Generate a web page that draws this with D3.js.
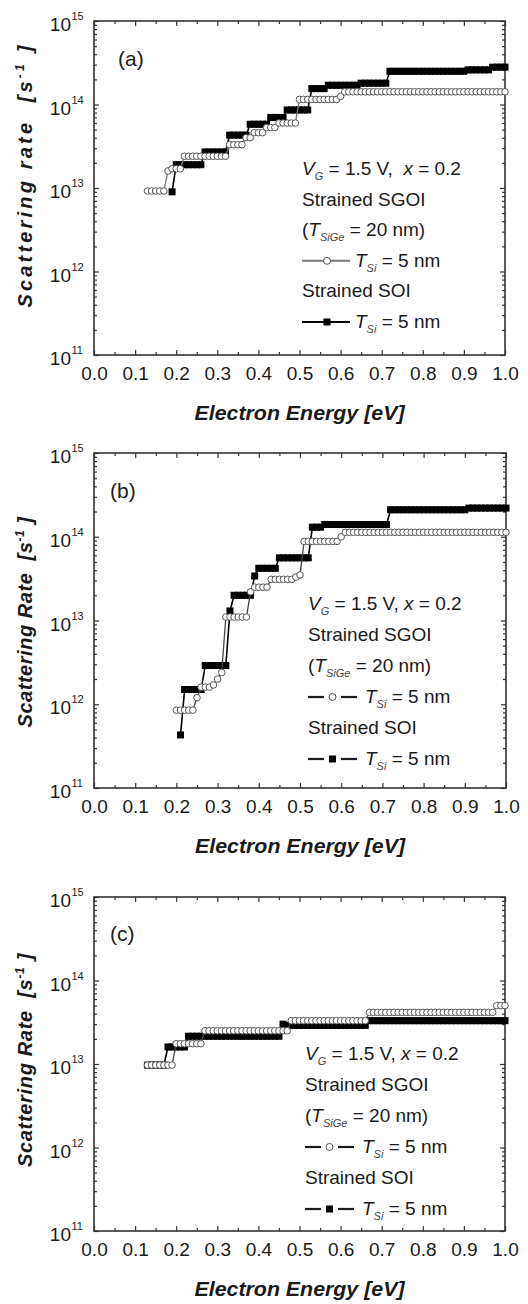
<!DOCTYPE html>
<html><head><meta charset="utf-8">
<script src="https://cdn.jsdelivr.net/npm/d3@7"></script>
<style>
body{margin:0;background:#fff}
svg{display:block}
text{font-family:"Liberation Sans",Arial,sans-serif;fill:#1a1a1a;white-space:pre}
</style>
</head><body>
<svg id="chart" width="528" height="1304"></svg>
<script>
// ---------------- data (values in units of 1e13 s^-1, sampled every 0.01 eV) ----------------
const xTickLabels = ["0.0","0.1","0.2","0.3","0.4","0.5","0.6","0.7","0.8","0.9","1.0"];
const yTickExponents = [11,12,13,14,15];
const energyStep = 0.01;

// panel (a)
const aSgoiStart = 0.13;
const aSgoi = [0.92,0.92,0.92,0.92,0.92, 1.6, 1.7,1.7,1.7,
  2.4,2.4,2.4,2.4,2.4,2.4,2.4,2.4,2.4,2.4,2.4,
  3.3,3.3,3.3,3.3, 4.0,4.0, 4.6,4.6,4.6, 5.3,5.3,5.3, 6.0,6.0,6.0,6.0,6.0,
  11.5,11.5,11.5,11.5,11.5,11.5,11.5,11.5,11.5,11.5, 12.5,
  14.2,14.2,14.2,14.2,14.2,14.2,14.2,14.2,14.2,14.2,14.2,14.2,14.2,14.2,14.2,14.2,14.2,14.2,14.2,14.2,
  14.2,14.2,14.2,14.2,14.2,14.2,14.2,14.2,14.2,14.2,14.2,14.2,14.2,14.2,14.2,14.2,14.2,14.2,14.2,14.2];
const aSoiStart = 0.19;
const aSoi = [0.9, 1.9,1.9,1.9,1.9,1.9,1.9,1.9, 2.7,2.7,2.7,2.7,2.7,2.7,
  4.3,4.3,4.3,4.3,4.3, 5.8,5.8,5.8,5.8,5.8, 7.0,7.0,7.0,7.0, 8.6,8.6,8.6,8.6,8.6,8.6,
  15.5,15.5,15.5,15.5, 17,17,17,17,17,17,17,17, 18,18,18,18,18,18,18,
  25,25,25,25,25,25,25,25,25,25,25,25,25,25,25,25,25,25,25, 26,26,26,26,26,26, 28,28,28,28];

// panel (b)
const bSgoiStart = 0.20;
const bSgoi = [0.085,0.085,0.085,0.085,0.085, 0.12, 0.16,0.16,0.16, 0.17, 0.20, 0.24,
  1.1,1.1,1.1,1.1,1.1,1.1, 2.2, 2.5,2.5,2.5,2.5, 3.1,3.1,3.1,3.1,3.1,3.1, 3.3, 3.5,
  8.8,8.8,8.8,8.8,8.8,8.8,8.8,8.8,8.8, 10,
  11.3,11.3,11.3,11.3,11.3,11.3,11.3,11.3,11.3,11.3,11.3,11.3,11.3,11.3,11.3,11.3,11.3,11.3,11.3,11.3,
  11.3,11.3,11.3,11.3,11.3,11.3,11.3,11.3,11.3,11.3,11.3,11.3,11.3,11.3,11.3,11.3,11.3,11.3,11.3,11.3];
const bSoiStart = 0.21;
const bSoi = [0.043, 0.15,0.15,0.15,0.15,0.15, 0.29,0.29,0.29,0.29,0.29,0.29, 1.3,
  2.0,2.0,2.0,2.0,2.0, 3.4, 4.2,4.2,4.2,4.2,4.2, 5.6,5.6,5.6,5.6,5.6,5.6,5.6,5.6,
  13,13,13, 14,14,14,14,14,14,14,14,14,14,14,14,14,14,14,14,
  21,21,21,21,21,21,21,21,21,21,21,21,21,21,21,21,21,21,21, 22,22,22,22,22,22,22,22,22,22];

// panel (c)
const cSgoiStart = 0.13;
const cSgoi = [0.97,0.97,0.97,0.97,0.97,0.97,0.97, 1.75,1.75,1.75,1.75,1.75,1.75,1.75,
  2.5,2.5,2.5,2.5,2.5,2.5,2.5,2.5,2.5,2.5,2.5,2.5,2.5,2.5,2.5,2.5,2.5,2.5,2.5,2.5,2.5,
  3.3,3.3,3.3,3.3,3.3,3.3,3.3,3.3,3.3,3.3,3.3,3.3,3.3,3.3,3.3,3.3,3.3,3.3,3.3,
  4.15,4.15,4.15,4.15,4.15,4.15,4.15,4.15,4.15,4.15,4.15,4.15,4.15,4.15,4.15,4.15,
  4.15,4.15,4.15,4.15,4.15,4.15,4.15,4.15,4.15,4.15,4.15,4.15,4.15,4.15,4.15, 5.0,5.0,5.0];
const cSoiStart = 0.13;
const cSoi = [0.97,0.97,0.97,0.97,0.97, 1.6,1.6,1.6,1.6,1.6,
  2.15,2.15,2.15,2.15,2.15,2.15,2.15,2.15,2.15,2.15,2.15,2.15,2.15,2.15,2.15,2.15,2.15,2.15,2.15,2.15,2.15,2.15,2.15,
  3.0,2.9,2.9,2.9,2.9,2.9,2.9,2.9,2.9,2.9,2.9,2.9,2.9,2.9,2.9,2.9,2.9,2.9,2.9,2.9,2.9,
  3.3,3.3,3.3,3.3,3.3,3.3,3.3,3.3,3.3,3.3,3.3,3.3,3.3,3.3,3.3,3.3,3.3,
  3.3,3.3,3.3,3.3,3.3,3.3,3.3,3.3,3.3,3.3,3.3,3.3,3.3,3.3,3.3,3.3,3.3];

const panelLabels = ["(a)","(b)","(c)"];
const yTitleWords = ["Scattering rate","Scattering Rate","Scattering Rate"];
const xTitle = "Electron Energy [eV]";
const legendHeader = ["1.5 V","x = 0.2"];
const legendSgoi = ["Strained SGOI","20 nm","5 nm"];
const legendSoi = ["Strained SOI","5 nm"];

// ---------------- layout ----------------
const panels = [
  {top:21, bottom:355, left:94, right:505, lab:[118,66], title:[32,175,265], leg:[302,175,30.6], style:"solid", sep:",  ",
   sgoi:aSgoi, sgoi0:aSgoiStart, soi:aSoi, soi0:aSoiStart, sgoiLine:"#777"},
  {top:453, bottom:788, left:94, right:506, lab:[110,498], title:[32,622,211], leg:[308,610,31], style:"dash", sep:", ",
   sgoi:bSgoi, sgoi0:bSgoiStart, soi:bSoi, soi0:bSoiStart, sgoiLine:"#444"},
  {top:897, bottom:1231, left:94, right:505, lab:[110,941], title:[32,1060,214], leg:[305,1060,31], style:"dash", sep:", ",
   sgoi:cSgoi, sgoi0:cSgoiStart, soi:cSoi, soi0:cSoiStart, sgoiLine:"#444"}
];

const svg = d3.select("#chart");
const INK = "#1a1a1a";

function rich(g, x, y, parts, size) {
  const t = g.append("text").attr("x", x).attr("y", y).style("font-size", size + "px");
  let shift = 0;
  parts.forEach(p => {
    const s = t.append("tspan").text(p.t);
    if (p.i) s.style("font-style", "italic");
    if (p.sub) {
      s.style("font-size", "11px").style("font-style", "italic").attr("fill", "#444");
      s.attr("dy", 5 - shift); shift = 5;
    } else if (shift !== 0) {
      s.attr("dy", -shift); shift = 0;
    }
  });
  return t;
}

function series(values, start) {
  return values.map((v, i) => ({e: +(start + i * energyStep).toFixed(2), v: v * 1e13}));
}

panels.forEach((p, k) => {
  const g = svg.append("g");
  const x = d3.scaleLinear().domain([0, 1]).range([p.left, p.right]);
  const y = d3.scaleLog().domain([1e11, 1e15]).range([p.bottom, p.top]);

  const xMaj = xTickLabels.map(Number);
  const xMin = xMaj.slice(0, -1).map(v => v + 0.05);
  const yMaj = yTickExponents.map(e => Math.pow(10, e));
  const yMin = [];
  yTickExponents.slice(0, -1).forEach(e => { for (let m = 2; m <= 9; m++) yMin.push(m * Math.pow(10, e)); });

  const style = sel => {
    sel.select(".domain").remove();
    sel.selectAll(".tick line").attr("stroke", "#333").attr("stroke-width", 1.2);
  };
  g.append("g").attr("transform", `translate(0,${p.bottom})`)
    .call(d3.axisBottom(x).tickValues(xMaj).tickSize(-5).tickPadding(12).tickFormat((v, i) => xTickLabels[i]))
    .call(style)
    .call(s => s.selectAll("text").attr("fill", INK).style("font-size", "19px").attr("font-family", null));
  g.append("g").attr("transform", `translate(0,${p.bottom})`).call(d3.axisBottom(x).tickValues(xMin).tickSize(-3).tickFormat("")).call(style);
  g.append("g").attr("transform", `translate(0,${p.top})`).call(d3.axisTop(x).tickValues(xMaj).tickSize(-5).tickFormat("")).call(style);
  g.append("g").attr("transform", `translate(0,${p.top})`).call(d3.axisTop(x).tickValues(xMin).tickSize(-3).tickFormat("")).call(style);
  g.append("g").attr("transform", `translate(${p.left},0)`).call(d3.axisLeft(y).tickValues(yMaj).tickSize(-5).tickFormat("")).call(style);
  g.append("g").attr("transform", `translate(${p.left},0)`).call(d3.axisLeft(y).tickValues(yMin).tickSize(-3).tickFormat("")).call(style);
  g.append("g").attr("transform", `translate(${p.right},0)`).call(d3.axisRight(y).tickValues(yMaj).tickSize(-5).tickFormat("")).call(style);
  g.append("g").attr("transform", `translate(${p.right},0)`).call(d3.axisRight(y).tickValues(yMin).tickSize(-3).tickFormat("")).call(style);

  // frame
  g.append("rect").attr("x", p.left).attr("y", p.top).attr("width", p.right - p.left).attr("height", p.bottom - p.top)
    .attr("fill", "none").attr("stroke", "#333").attr("stroke-width", 1.6);

  // y tick labels 10^n
  yTickExponents.forEach(e => {
    const yy = y(Math.pow(10, e));
    g.append("text").attr("x", 71).attr("y", yy + 10).attr("text-anchor", "end").style("font-size", "19px").text("10");
    g.append("text").attr("x", 71.5).attr("y", yy - 1).style("font-size", "11px").text(String(e));
  });

  // data
  const soi = series(p.soi, p.soi0);
  const sgoi = series(p.sgoi, p.sgoi0);
  const line = d3.line().x(d => x(d.e)).y(d => y(d.v));
  g.append("path").datum(soi).attr("d", line).attr("fill", "none").attr("stroke", "#000").attr("stroke-width", 1.6);
  g.selectAll(".sq").data(soi).join("rect").attr("class", "sq")
    .attr("x", d => x(d.e) - 3.5).attr("y", d => y(d.v) - 3.5).attr("width", 7).attr("height", 7).attr("fill", "#000");
  g.append("path").datum(sgoi).attr("d", line).attr("fill", "none").attr("stroke", p.sgoiLine).attr("stroke-width", 1.3);
  g.selectAll(".ci").data(sgoi).join("circle").attr("class", "ci")
    .attr("cx", d => x(d.e)).attr("cy", d => y(d.v)).attr("r", 3.3)
    .attr("fill", "#fff").attr("stroke", "#555").attr("stroke-width", 1);

  // panel label
  g.append("text").attr("x", p.lab[0]).attr("y", p.lab[1]).style("font-size", "21px").text(panelLabels[k]);

  // y title
  const yt = g.append("text").attr("transform", `translate(${p.title[0]},${p.title[1]}) rotate(-90)`)
    .attr("text-anchor", "middle").style("font-size", "20px").style("font-weight", "bold").style("font-style", "italic");
  yt.append("tspan").text(yTitleWords[k] + "  [s");
  yt.append("tspan").attr("dy", -8).style("font-size", "12px").text("-1");
  yt.append("tspan").attr("dy", 8).text(" ]");
  const nat = yt.node().getComputedTextLength();
  const nch = yt.text().length;
  yt.style("letter-spacing", ((p.title[2] - nat) / nch) + "px");

  // x title
  g.append("text").attr("x", (p.left + p.right) / 2).attr("y", p.bottom + 65).attr("text-anchor", "middle")
    .style("font-size", "20px").style("font-weight", "bold").style("font-style", "italic")
    .attr("textLength", 210).attr("lengthAdjust", "spacingAndGlyphs").text(xTitle);

  // legend
  const [lx, ly, ld] = p.leg;
  rich(g, lx, ly, [{t:"V", i:1}, {t:"G", sub:1}, {t:" = " + legendHeader[0] + p.sep}, {t:"x", i:1}, {t:legendHeader[1].slice(1)}], 19);
  rich(g, lx, ly + ld, [{t:legendSgoi[0]}], 19);
  rich(g, lx, ly + 2 * ld, [{t:"("}, {t:"T", i:1}, {t:"SiGe", sub:1}, {t:" = " + legendSgoi[1] + ")"}], 19);
  const tx = p.style === "solid" ? lx + 53 : lx + 57;
  function symbol(cy, filled, color) {
    if (p.style === "solid") {
      g.append("line").attr("x1", lx).attr("x2", lx + 48).attr("y1", cy).attr("y2", cy).attr("stroke", color).attr("stroke-width", 2);
    } else {
      g.append("line").attr("x1", lx).attr("x2", lx + 16).attr("y1", cy).attr("y2", cy).attr("stroke", INK).attr("stroke-width", 2.2);
      g.append("line").attr("x1", lx + 33).attr("x2", lx + 49).attr("y1", cy).attr("y2", cy).attr("stroke", INK).attr("stroke-width", 2.2);
    }
    const mx = p.style === "solid" ? lx + 25 : lx + 24.5;
    if (filled) g.append("rect").attr("x", mx - 3.5).attr("y", cy - 3.5).attr("width", 7).attr("height", 7).attr("fill", "#000");
    else g.append("circle").attr("cx", mx).attr("cy", cy).attr("r", 3.5).attr("fill", "#fff").attr("stroke", "#555").attr("stroke-width", 1);
  }
  symbol(ly + 3 * ld - 6, false, "#777");
  rich(g, tx, ly + 3 * ld, [{t:"T", i:1}, {t:"Si", sub:1}, {t:" = " + legendSgoi[2]}], 19);
  rich(g, lx, ly + 4 * ld, [{t:legendSoi[0]}], 19);
  symbol(ly + 5 * ld - 6, true, "#000");
  rich(g, tx, ly + 5 * ld, [{t:"T", i:1}, {t:"Si", sub:1}, {t:" = " + legendSoi[1]}], 19);
});
</script>
</body></html>
